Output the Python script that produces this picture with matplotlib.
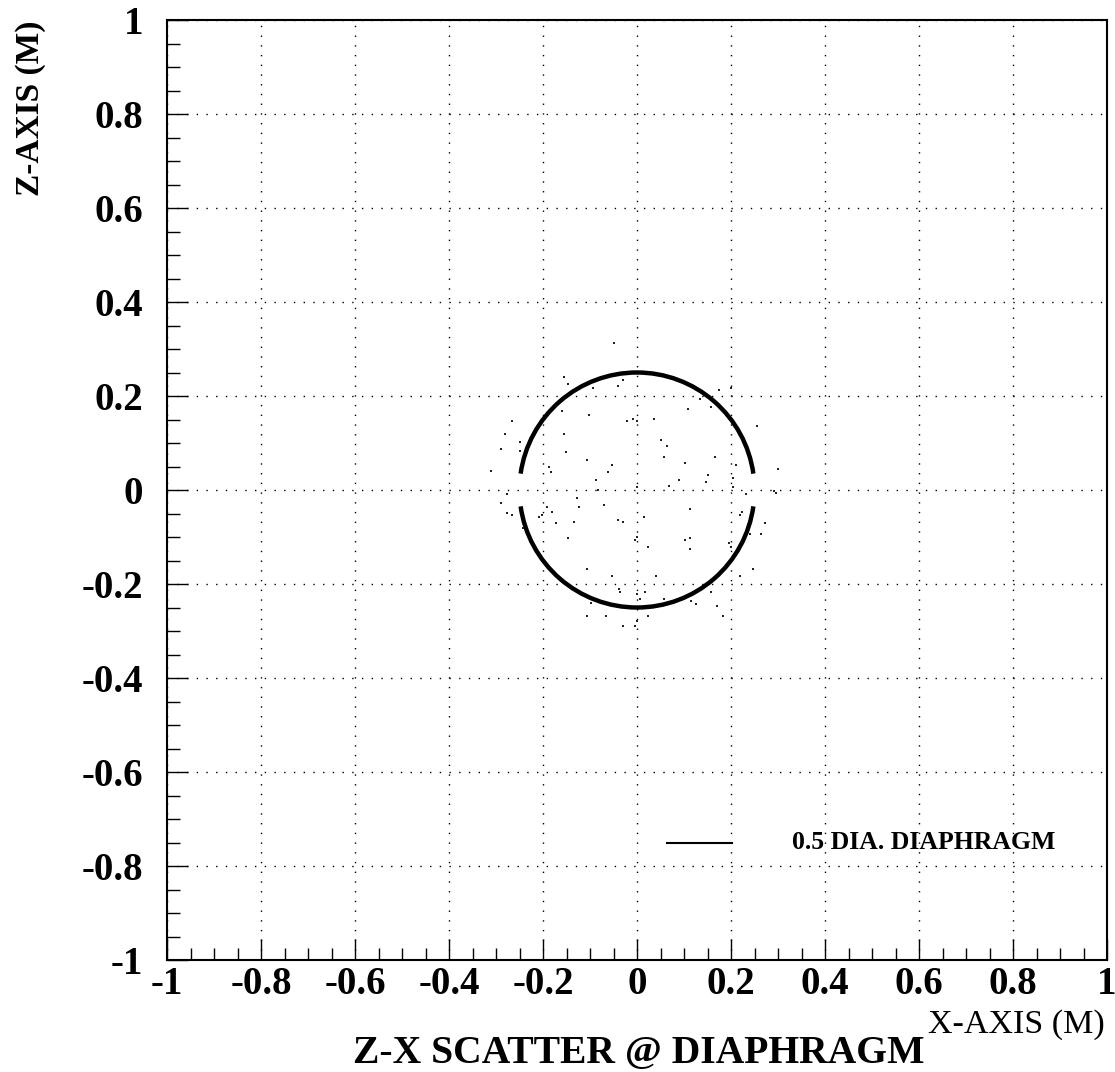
import matplotlib
matplotlib.use("Agg")
import matplotlib.pyplot as plt
from matplotlib.patches import Arc

# Diaphragm outline (0.5 m diameter) and the gap around z=0
dia_center = (0.0, 0.0)
dia_diameter = 0.5
gap_half_angle = 8.0

# Scattered hits at the diaphragm plane (x, z in metres)
hit_x = [-0.048, -0.155, -0.147, -0.030, -0.040, -0.093, 0.174, 0.134, -0.160, 0.108,
         0.157, -0.102, -0.021, -0.009, 0.000, 0.036, -0.267, -0.280, 0.255, -0.155,
         0.050, 0.063, -0.249, -0.289, -0.249, -0.151, 0.058, 0.165, -0.106, 0.103,
         -0.053, -0.187, -0.182, -0.062, 0.210, -0.311, 0.299, 0.152, 0.205, -0.088,
         0.090, 0.147, 0.068, 0.000, 0.204, -0.082, 0.292, 0.295, -0.276, 0.232,
         -0.289, -0.128, -0.124, -0.070, -0.191, -0.181, 0.112, -0.276, -0.267, -0.209,
         0.014, -0.040, -0.030, -0.173, -0.133, 0.219, 0.224, 0.272, 0.263, 0.241,
         -0.147, -0.004, 0.000, 0.102, 0.112, 0.112, 0.023, 0.196, 0.201, 0.246,
         -0.106, -0.053, 0.041, 0.219, -0.039, -0.036, 0.157, 0.000, 0.006, 0.018,
         0.058, 0.115, 0.125, 0.171, -0.098, -0.106, -0.066, 0.023, 0.183, -0.030,
         -0.004, 0.000, 0.201, -0.202, -0.242]
hit_z = [0.312, 0.241, 0.226, 0.235, 0.221, 0.218, 0.212, 0.194, 0.168, 0.172,
         0.177, 0.159, 0.147, 0.151, 0.147, 0.151, 0.147, 0.120, 0.137, 0.120,
         0.107, 0.093, 0.102, 0.088, 0.084, 0.080, 0.071, 0.071, 0.063, 0.057,
         0.053, 0.048, 0.039, 0.039, 0.053, 0.040, 0.045, 0.031, 0.026, 0.022,
         0.022, 0.018, 0.009, 0.006, 0.006, 0.000, -0.003, -0.006, -0.009, -0.009,
         -0.027, -0.018, -0.036, -0.031, -0.036, -0.046, -0.041, -0.049, -0.053, -0.058,
         -0.058, -0.063, -0.068, -0.071, -0.068, -0.053, -0.046, -0.071, -0.094, -0.094,
         -0.103, -0.107, -0.101, -0.107, -0.103, -0.125, -0.121, -0.112, -0.121, -0.169,
         -0.169, -0.184, -0.184, -0.184, -0.210, -0.218, -0.218, -0.222, -0.232, -0.218,
         -0.232, -0.236, -0.242, -0.246, -0.241, -0.268, -0.268, -0.268, -0.268, -0.290,
         -0.290, -0.279, 0.216, -0.053, -0.081]

ticks = [-1, -0.8, -0.6, -0.4, -0.2, 0, 0.2, 0.4, 0.6, 0.8, 1]
tick_labels = ["-1", "-0.8", "-0.6", "-0.4", "-0.2", "0", "0.2", "0.4", "0.6", "0.8", "1"]

legend_label = "0.5 DIA. DIAPHRAGM"
legend_line_x = [0.064, 0.203]
legend_line_z = [-0.75, -0.75]

plt.rcParams['font.family'] = ['Liberation Serif', 'DejaVu Serif']
plt.rcParams['axes.unicode_minus'] = False

fig = plt.figure(figsize=(11.15, 10.72), dpi=100)
ax = fig.add_axes([167 / 1115, 1 - 960 / 1072, 940 / 1115, 940 / 1072])

ax.set_xlim(-1, 1)
ax.set_ylim(-1, 1)

# dotted grid at the major ticks
ax.set_xticks(ticks)
ax.set_yticks(ticks)
ax.set_xticks([t / 20 for t in range(-20, 21)], minor=True)
ax.set_yticks([t / 20 for t in range(-20, 21)], minor=True)
ax.set_xticklabels(tick_labels, fontsize=28, fontweight='bold')
ax.set_yticklabels(tick_labels, fontsize=28, fontweight='bold')
ax.grid(True, which='major', color='black', linestyle=(0, (1, 6)), linewidth=1.0)
ax.set_axisbelow(True)

ax.tick_params(which='both', direction='in', top=False, right=False, width=1.0)
ax.tick_params(which='major', length=15)
ax.tick_params(which='minor', length=9)
ax.tick_params(axis='x', which='major', pad=4)
ax.tick_params(axis='y', which='major', pad=17)
for sp in ax.spines.values():
    sp.set_linewidth(1.5)

# the diaphragm: two arcs with a gap at z=0
ax.add_patch(Arc(dia_center, dia_diameter, dia_diameter, theta1=gap_half_angle,
                 theta2=180 - gap_half_angle, color='black', linewidth=3.2))
ax.add_patch(Arc(dia_center, dia_diameter, dia_diameter, theta1=180 + gap_half_angle,
                 theta2=360 - gap_half_angle, color='black', linewidth=3.2))

ax.scatter(hit_x, hit_z, s=4, color='#222222', marker='s', linewidths=0)

# hand-drawn style legend
ax.plot(legend_line_x, legend_line_z, color='black', linewidth=1.5)
ax.text(0.33, -0.763, legend_label, fontsize=18.5, fontweight='bold')

fig.text(0.027, 1 - 20 / 1072, "Z-AXIS (M)", rotation=90, ha='center', va='top',
         fontsize=24, fontweight='bold')
fig.text(1105 / 1115, 1 - 1033 / 1072, "X-AXIS (M)", ha='right', va='baseline',
         fontsize=24.5)
fig.text(639 / 1115, 1 - 1063 / 1072, "Z-X SCATTER @ DIAPHRAGM", ha='center',
         va='baseline', fontsize=28.5, fontweight='bold')

fig.savefig("out.png", dpi=100)
